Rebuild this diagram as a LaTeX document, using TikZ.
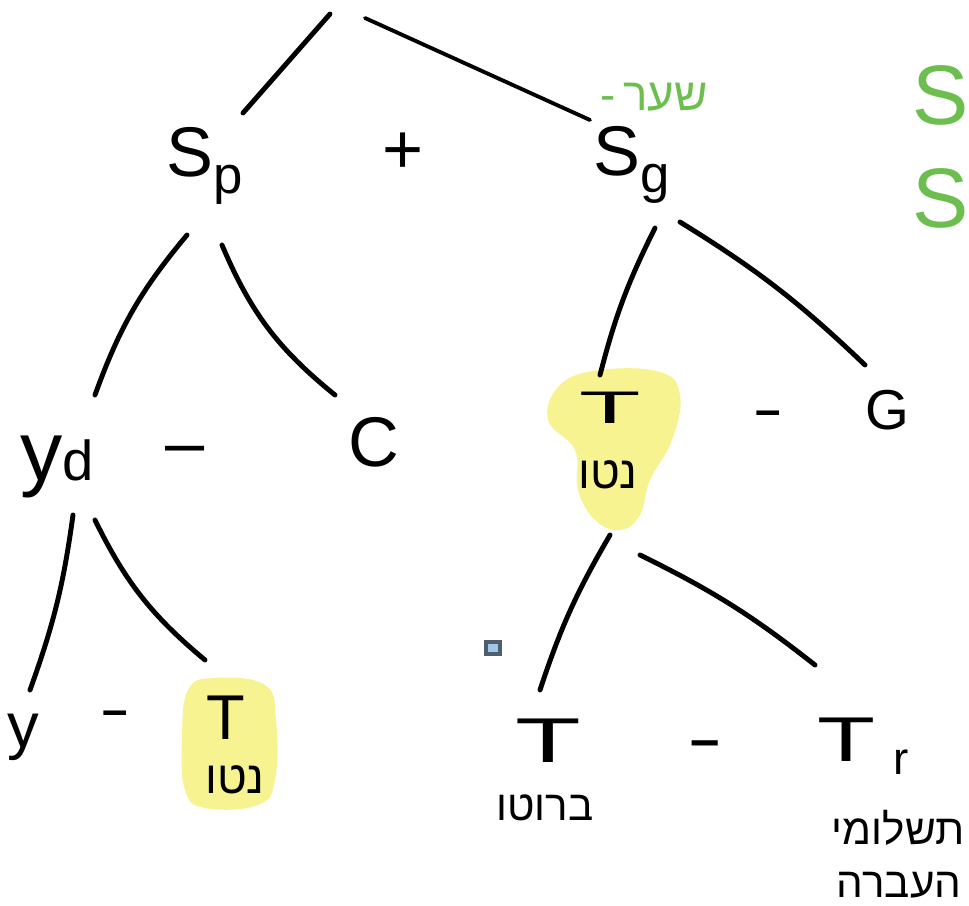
\documentclass[tikz,border=0pt]{standalone}
\usepackage{fontspec}
\setmainfont{Liberation Sans}
\newfontfamily\hebfont[Script=Hebrew]{Liberation Sans}
\TeXXeTstate=1
\usetikzlibrary{calc}

\definecolor{hlyellow}{RGB}{248,243,145}
\definecolor{inkgreen}{RGB}{108,190,78}
\definecolor{markedge}{RGB}{78,94,108}
\definecolor{markfill}{RGB}{160,200,230}

\newcommand{\fsz}[1]{\fontsize{#1}{#1}\selectfont}
\newcommand{\lowsub}[2][15]{\raisebox{-0.45ex}{\fsz{#1}#2}}

\begin{document}
\begin{tikzpicture}[
    x=0.01cm, y=-0.01cm,
    edge/.style    = {line width=1.4pt, line cap=round},
    sym/.style     = {inner sep=0pt, font=\fsz{20}},
    opsign/.style  = {inner sep=0pt},
    hebnote/.style = {inner sep=0pt, font=\hebfont\fsz{13}},
    greennote/.style = {inner sep=0pt, text=inkgreen},
    blob/.style    = {fill=hlyellow, draw=none}
]
\useasboundingbox (0,0) rectangle (969,906);

% ========= highlights =========
\fill[blob] plot[smooth cycle, tension=0.7] coordinates {(560,385) (600,370) (660,372) (680,395)
    (672,440) (650,480) (640,515) (620,530) (595,520) (578,490) (575,450) (548,420)};
\fill[blob] plot[smooth cycle, tension=0.7] coordinates {(188,690) (215,678) (265,685) (276,720)
    (275,780) (258,805) (205,808) (185,790) (182,740)};

% ========= level 1 =========
\coordinate (rootl) at (330,14);
\coordinate (rootr) at (365,18);
\node[sym]          (Sp)   at (205,166) {S\lowsub{p}};
\node[opsign, font=\fsz{20}] (plus) at (403,153) {+};
\node[sym]          (Sg)   at (632,165) {S\lowsub{g}};
\node[greennote, anchor=west] (Sgnote) at (600,97) {\fsz{13}-\,{\hebfont\beginR שער\endR}};

% ========= level 2 =========
\node[sym, font=\fsz{24}] (yd) at (57,467) {y{\fsz{16}d}};
\node[opsign, font=\fsz{20}] (m1) at (185,456) {–};
\node[sym]          (C)    at (374,442) {C};
\node[sym]          (T1)   at (610,408) {\scalebox{2.2}[1]{\fsz{13}T}};
\node[hebnote]      (T1n)  at (608,475) {\beginR נטו\endR};
\node[opsign, font=\bfseries\fsz{13}] (m2) at (768,418) {–};
\node[sym, font=\fsz{16}] (G) at (887,410) {G};

% ========= level 3 =========
\node[sym, font=\fsz{18}] (y) at (23,737) {y};
\node[opsign, font=\bfseries\fsz{13}] (m3) at (115,718) {–};
\node[sym, font=\fsz{18}] (T2) at (226,718) {T};
\node[hebnote]      (T2n)  at (235,780) {\beginR נטו\endR};
\node[sym, font=\fsz{18}] (T3) at (548,741) {\scalebox{1.7}[1]{T}};
\node[hebnote, font=\hebfont\fsz{12}] (T3n) at (545,808) {\beginR ברוטו\endR};
\node[opsign, font=\bfseries\fsz{15}] (m4) at (705,749) {–};
\node[sym, font=\fsz{18}] (Tr) at (863,746) {\scalebox{1.5}[1]{T}\hspace{5pt}\raisebox{-3.7pt}{\fsz{13}r}};
\node[hebnote, font=\hebfont\fsz{12}, anchor=east] (Trn1) at (965,828) {\beginR תשלומי\endR};
\node[hebnote, font=\hebfont\fsz{12}, anchor=east] (Trn2) at (962,885) {\beginR העברה\endR};

% ========= margin notes =========
\node[greennote, font=\fsz{24}, anchor=west] (gSp) at (912,112) {S\lowsub[20]{p}};
\node[greennote, font=\fsz{24}, anchor=west] (gSg) at (912,215) {S\lowsub[20]{g}};
\node[draw=markedge, fill=markfill, line width=0.04cm, inner sep=0pt,
      minimum width=0.14cm, minimum height=0.12cm] (mark) at (493,648) {};

% ========= branches =========
\draw[edge] (rootl) -- ($(Sp)+(38,-53)$);
\draw[edge, line width=1.1pt] (rootr) -- ($(Sg)+(-42,-45)$);
\draw[edge] ($(Sp)+(-18,69)$) to[bend right=10] ($(yd)+(38,-72)$);
\draw[edge] ($(Sp)+(17,79)$)  to[bend right=14] ($(C)+(-39,-47)$);
\draw[edge] ($(Sg)+(23,63)$)  to[bend right=6]  ($(T1)+(-10,-33)$);
\draw[edge] ($(Sg)+(48,57)$)  to[bend left=6]   ($(G)+(-22,-45)$);
\draw[edge] ($(yd)+(16,48)$)  to[bend left=6]   ($(y)+(7,-47)$);
\draw[edge] ($(yd)+(38,53)$)  to[bend right=12] ($(T2)+(-21,-58)$);
\draw[edge] ($(T1)+(0,127)$)  to[bend right=6]  ($(T3)+(-8,-51)$);
\draw[edge] ($(T1)+(30,147)$) to[bend left=6]   ($(Tr)+(-48,-81)$);

\end{tikzpicture}
\end{document}
